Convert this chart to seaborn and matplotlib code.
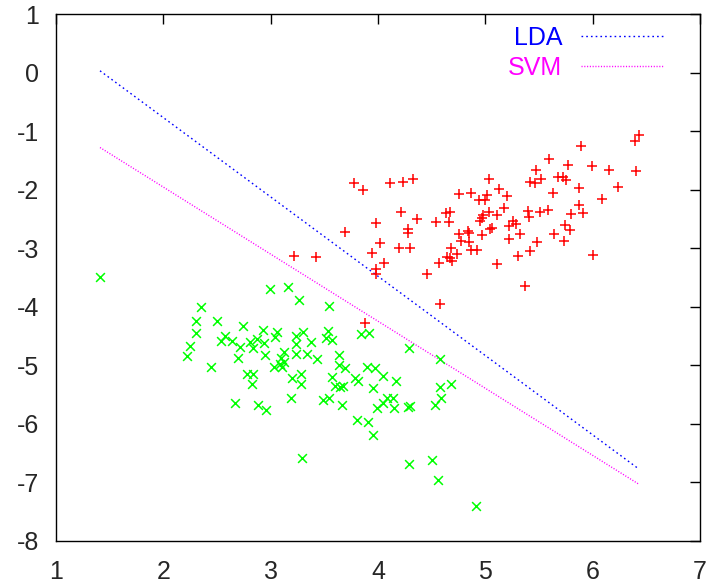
import matplotlib
matplotlib.use("Agg")
import matplotlib.pyplot as plt
import seaborn as sns
import pandas as pd

# ---- data ----
red_x = [3.22, 3.42, 3.78, 3.86, 4.11, 4.23, 4.33, 4.21, 4.36, 3.98, 4.28, 4.28, 3.69, 4.02, 4.20,
         4.30, 3.94, 4.06, 3.98, 3.98, 3.88, 4.46, 4.58, 4.54, 4.63, 4.67, 4.66, 4.75, 4.87, 4.94,
         5.00, 5.02, 5.03, 5.13, 5.20, 5.17, 5.11, 5.03, 4.97, 4.95, 4.98, 4.75, 4.84, 4.85, 4.77,
         4.85, 4.68, 4.87, 4.92, 4.74, 4.64, 4.67, 4.69, 4.57, 5.11, 5.04, 5.06, 4.97, 5.26, 5.29,
         5.22, 5.32, 5.22, 5.40, 5.41, 5.51, 5.58, 5.48, 5.42, 5.30, 5.37, 5.64, 5.59, 5.47, 5.52,
         5.42, 5.46, 5.68, 5.63, 6.43, 6.39, 5.89, 5.77, 5.99, 6.15, 6.40, 5.72, 5.75, 5.87, 6.24,
         6.09, 5.87, 5.91, 5.80, 5.74, 5.79, 5.73, 6.00]
red_y = [-3.14, -3.15, -1.89, -2.01, -1.89, -1.87, -1.82, -2.38, -2.50, -2.57, -2.67, -2.74, -2.73, -2.91, -3.00,
         -3.00, -3.08, -3.26, -3.36, -3.44, -4.28, -3.44, -3.96, -2.55, -2.40, -2.38, -2.55, -2.08, -2.06, -2.18,
         -2.18, -2.09, -1.82, -1.99, -2.11, -2.32, -2.44, -2.38, -2.49, -2.54, -2.44, -2.76, -2.71, -2.74, -2.88,
         -2.90, -3.00, -3.03, -3.03, -3.10, -3.15, -3.17, -3.22, -3.26, -3.27, -2.67, -2.66, -2.78, -2.54, -2.59,
         -2.62, -2.76, -2.85, -2.37, -2.47, -2.38, -2.35, -2.90, -3.05, -3.14, -3.65, -2.76, -1.48, -1.67, -1.82,
         -1.87, -1.89, -1.79, -2.06, -1.07, -1.17, -1.26, -1.58, -1.60, -1.67, -1.68, -1.79, -1.84, -1.97, -1.96,
         -2.16, -2.26, -2.40, -2.42, -2.61, -2.69, -2.88, -3.12]

green_x = [1.41, 2.35, 2.30, 2.50, 2.30, 2.74, 2.25, 2.22, 2.44, 2.99, 3.16, 3.26, 2.93, 3.06, 3.04,
           2.57, 2.54, 2.64, 2.71, 2.81, 2.87, 2.84, 2.94, 2.70, 2.95, 3.12, 3.10, 3.12, 3.09, 3.03,
           3.11, 3.24, 3.24, 3.24, 2.78, 2.84, 2.83, 3.20, 3.19, 2.67, 2.88, 2.96, 3.54, 3.84, 3.92,
           3.30, 3.38, 3.53, 3.52, 3.57, 3.34, 3.43, 3.64, 3.64, 3.69, 3.90, 3.97, 4.05, 3.28, 3.28,
           3.57, 3.79, 3.81, 3.60, 3.65, 3.67, 3.95, 3.49, 3.54, 3.66, 3.99, 4.05, 4.08, 4.14, 4.15,
           4.28, 4.30, 3.80, 3.91, 3.95, 3.29, 4.29, 4.58, 4.17, 4.58, 4.68, 4.59, 4.53, 4.29, 4.50,
           4.56, 4.91]
green_y = [-3.49, -4.01, -4.25, -4.25, -4.45, -4.33, -4.67, -4.84, -5.03, -3.70, -3.67, -3.89, -4.40, -4.43, -4.52,
           -4.50, -4.59, -4.59, -4.69, -4.61, -4.55, -4.71, -4.62, -4.88, -4.83, -4.78, -4.88, -4.95, -4.97, -5.03,
           -5.03, -4.50, -4.64, -4.81, -5.14, -5.14, -5.32, -5.22, -5.55, -5.65, -5.67, -5.77, -3.99, -4.47, -4.45,
           -4.43, -4.61, -4.42, -4.54, -4.57, -4.81, -4.90, -4.83, -5.00, -5.05, -5.02, -5.05, -5.19, -5.15, -5.32,
           -5.20, -5.22, -5.27, -5.36, -5.37, -5.36, -5.39, -5.60, -5.55, -5.67, -5.73, -5.65, -5.55, -5.55, -5.73,
           -5.72, -5.70, -5.94, -5.96, -6.19, -6.59, -4.71, -4.90, -5.27, -5.37, -5.32, -5.55, -5.68, -6.69, -6.61,
           -6.96, -7.41]

lda_x = [1.41, 6.43]
lda_y = [0.03, -6.77]
svm_x = [1.41, 6.43]
svm_y = [-1.28, -7.03]

x_ticks = [1, 2, 3, 4, 5, 6, 7]
y_ticks = [1, 0, -1, -2, -3, -4, -5, -6, -7, -8]

# ---- style ----
sns.set_style("white")
plt.rcParams["font.family"] = ["Liberation Sans", "DejaVu Sans"]
plt.rcParams["axes.unicode_minus"] = False
plt.rcParams["xtick.direction"] = "in"
plt.rcParams["ytick.direction"] = "in"

fig = plt.figure(figsize=(7.09, 5.88), dpi=100)
ax = fig.add_axes([56 / 709, 47 / 588, 644 / 709, 527 / 588])

red_df = pd.DataFrame({"x": red_x, "y": red_y})
green_df = pd.DataFrame({"x": green_x, "y": green_y})
lda_df = pd.DataFrame({"x": lda_x, "y": lda_y})
svm_df = pd.DataFrame({"x": svm_x, "y": svm_y})

sns.scatterplot(data=red_df, x="x", y="y", marker="+", color="#ff0000",
                s=45, linewidth=1.1, ax=ax, legend=False, zorder=3)
sns.scatterplot(data=green_df, x="x", y="y", marker="x", color="#00ff00",
                s=40, linewidth=1.1, ax=ax, legend=False, zorder=3)
sns.lineplot(data=lda_df, x="x", y="y", color="#0000ff", linewidth=1.0,
             linestyle=(0, (1.2, 2.2)), sort=False, ax=ax, label="LDA")
sns.lineplot(data=svm_df, x="x", y="y", color="#ff00ff", linewidth=1.0,
             linestyle=(0, (0.8, 1.2)), sort=False, ax=ax, label="SVM")

ax.set_xlim(1, 7)
ax.set_ylim(-8, 1)
ax.set_xticks(x_ticks)
ax.set_yticks(y_ticks)
ax.set_xlabel("")
ax.set_ylabel("")
ax.tick_params(axis="both", which="both", labelsize=18, length=7, width=1,
               color="black", top=True, right=True)
ax.tick_params(axis="x", pad=14)
ax.tick_params(axis="y", pad=12)
for sp in ax.spines.values():
    sp.set_color("black")
    sp.set_linewidth(1.0)

leg = ax.legend(loc="upper right", bbox_to_anchor=(0.978, 1.02), frameon=False,
                markerfirst=False, fontsize=18, handlelength=3.3, handletextpad=0.75,
                labelspacing=0.25, labelcolor=["#0000ff", "#ff00ff"])

fig.savefig("out.png", dpi=100)
